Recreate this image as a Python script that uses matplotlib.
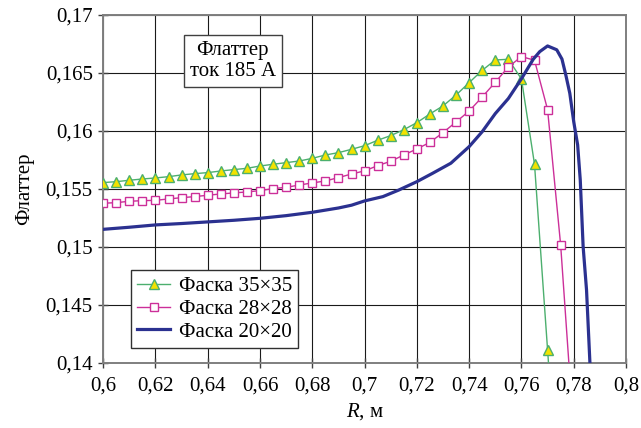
import matplotlib
matplotlib.use("Agg")
import matplotlib.pyplot as plt
import matplotlib.font_manager as fm
from matplotlib.lines import Line2D
from matplotlib.ticker import FuncFormatter

# берём файл Liberation Serif напрямую
serif_file = None
for f in fm.fontManager.ttflist:
    if 'LiberationSerif-Regular' in f.fname:
        serif_file = f.fname
        break

def serif(size=15):
    if serif_file:
        return fm.FontProperties(fname=serif_file, size=size)
    return fm.FontProperties(family='Liberation Serif', size=size)

plt.rcParams['font.family'] = 'serif'
plt.rcParams['font.serif'] = ['Liberation Serif', 'DejaVu Serif']
plt.rcParams['mathtext.fontset'] = 'custom'
plt.rcParams['mathtext.rm'] = 'Liberation Serif'
plt.rcParams['mathtext.it'] = 'Liberation Serif:italic'

# фаска 35x35 (шаг 0,005 м)
r35 = [0.600, 0.605, 0.610, 0.615, 0.620, 0.625, 0.630, 0.635, 0.640, 0.645,
       0.650, 0.655, 0.660, 0.665, 0.670, 0.675, 0.680, 0.685, 0.690, 0.695,
       0.700, 0.705, 0.710, 0.715, 0.720, 0.725, 0.730, 0.735, 0.740, 0.745,
       0.750, 0.755, 0.760, 0.765, 0.770, 0.775]
f35 = [0.15555, 0.15563, 0.15575, 0.15586, 0.15595, 0.15606, 0.15621, 0.15632,
       0.15641, 0.15655, 0.15667, 0.15678, 0.15698, 0.15713, 0.15727, 0.15741,
       0.15764, 0.15793, 0.15813, 0.15842, 0.15873, 0.15920, 0.15960, 0.16011,
       0.16072, 0.16147, 0.16216, 0.16310, 0.16417, 0.16523, 0.16612, 0.16618,
       0.16448, 0.15713, 0.14112, 0.12500]

# фаска 28x28
r28 = [0.600, 0.605, 0.610, 0.615, 0.620, 0.625, 0.630, 0.635, 0.640, 0.645,
       0.650, 0.655, 0.660, 0.665, 0.670, 0.675, 0.680, 0.685, 0.690, 0.695,
       0.700, 0.705, 0.710, 0.715, 0.720, 0.725, 0.730, 0.735, 0.740, 0.745,
       0.750, 0.755, 0.760, 0.765, 0.770, 0.775, 0.780]
f28 = [0.15377, 0.15382, 0.15394, 0.15399, 0.15402, 0.15414, 0.15425, 0.15434,
       0.15446, 0.15457, 0.15466, 0.15474, 0.15486, 0.15503, 0.15514, 0.15534,
       0.15552, 0.15569, 0.15598, 0.15629, 0.15656, 0.15701, 0.15739, 0.15793,
       0.15845, 0.15902, 0.15986, 0.16078, 0.16172, 0.16293, 0.16420, 0.16552,
       0.16641, 0.16610, 0.16184, 0.15017, 0.13400]

# фаска 20x20 (без маркеров)
r20 = [0.600, 0.610, 0.620, 0.630, 0.640, 0.650, 0.660, 0.670, 0.680, 0.690,
       0.695, 0.700, 0.707, 0.713, 0.720, 0.726, 0.733, 0.740, 0.745, 0.750,
       0.755, 0.760, 0.7645, 0.767, 0.770, 0.7735, 0.7755, 0.777, 0.7785,
       0.780, 0.7815, 0.7825, 0.7836, 0.7849, 0.7862, 0.787]
f20 = [0.15152, 0.15170, 0.15190, 0.15202, 0.15216, 0.15230, 0.15247, 0.15270,
       0.15299, 0.15336, 0.15360, 0.15397, 0.15434, 0.15490, 0.15563, 0.15635,
       0.15722, 0.15865, 0.15994, 0.16150, 0.16280, 0.16450, 0.16618, 0.16684,
       0.16733, 0.16700, 0.16620, 0.16480, 0.16325, 0.16080, 0.15880, 0.15578,
       0.15003, 0.14629, 0.14000, 0.13500]

xticks = [0.6, 0.62, 0.64, 0.66, 0.68, 0.7, 0.72, 0.74, 0.76, 0.78, 0.8]
yticks = [0.14, 0.145, 0.15, 0.155, 0.16, 0.165, 0.17]

c35 = '#4caf6e'
c28 = '#cc2f99'
c20 = '#2b3190'

fig = plt.figure(figsize=(6.41, 4.28), dpi=100)
ax = fig.add_axes([0.161, 0.152, 0.8156, 0.813])

ax.plot(r35, f35, color=c35, lw=1.0, marker='^', ms=7, mfc='#f2e200',
        mec=c35, mew=1.0, zorder=3)
ax.plot(r28, f28, color=c28, lw=1.0, marker='s', ms=5.5, mfc='white',
        mec=c28, mew=1.0, zorder=3)
ax.plot(r20, f20, color=c20, lw=2.3, zorder=4)

ax.set_xlim(0.6, 0.8)
ax.set_ylim(0.14, 0.17)
ax.set_xticks(xticks)
ax.set_yticks(yticks)

def comma(v, pos):
    s = ('%.3f' % v).rstrip('0').rstrip('.')
    return s.replace('.', ',')

ax.xaxis.set_major_formatter(FuncFormatter(comma))
ax.yaxis.set_major_formatter(FuncFormatter(comma))
ax.tick_params(direction='inout', length=7, width=1, color='#404040',
               labelsize=15, pad=4)
ax.tick_params(axis='x', pad=6)
ax.tick_params(top=False, right=False)
for lbl in ax.get_xticklabels() + ax.get_yticklabels():
    lbl.set_fontproperties(serif(15))

ax.grid(True, color='#1a1a1a', lw=0.8)
ax.set_axisbelow(True)
for s in ax.spines.values():
    s.set_color('#7f7f7f')
    s.set_linewidth(1.4)

ax.set_xlabel('$R$, м', fontsize=15, labelpad=4)
ax.set_ylabel('Флаттер', fontproperties=serif(15), labelpad=8)

ax.text(0.248, 0.868, 'Флаттер\nток 185 А', transform=ax.transAxes,
        fontproperties=serif(15), ha='center', va='center', linespacing=1.1,
        bbox=dict(boxstyle='square,pad=0.3', fc='white', ec='#404040', lw=1.0),
        zorder=5)

handles = [
    Line2D([], [], color=c35, lw=1.0, marker='^', ms=7, mfc='#f2e200', mec=c35),
    Line2D([], [], color=c28, lw=1.0, marker='s', ms=5.5, mfc='white', mec=c28),
    Line2D([], [], color=c20, lw=2.3),
]
labels = ['Фаска 35×35', 'Фаска 28×28', 'Фаска 20×20']
leg = ax.legend(handles, labels, loc='lower left', bbox_to_anchor=(0.0526, 0.043),
                borderaxespad=0, prop=serif(15), handlelength=1.6, handletextpad=0.4,
                labelspacing=0.15, borderpad=0.3, fancybox=False, framealpha=1,
                edgecolor='#303030', markerscale=1)
leg.get_frame().set_linewidth(1.0)
leg.set_zorder(6)

fig.savefig('out.png', dpi=100, facecolor='white')
